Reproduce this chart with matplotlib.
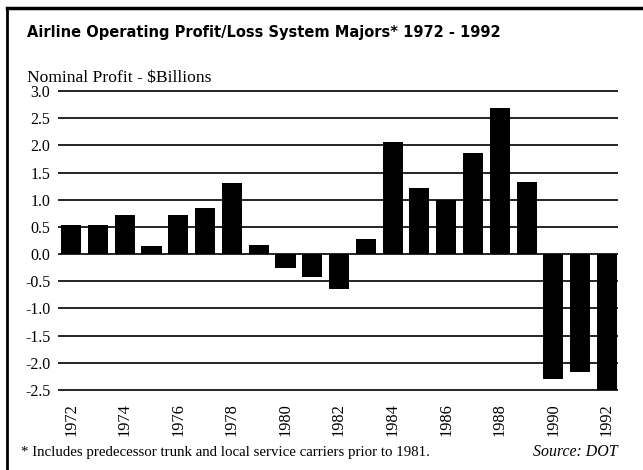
import matplotlib
matplotlib.use("Agg")
import matplotlib.pyplot as plt
from matplotlib.lines import Line2D

years = [1972, 1973, 1974, 1975, 1976, 1977, 1978, 1979, 1980, 1981, 1982,
         1983, 1984, 1985, 1986, 1987, 1988, 1989, 1990, 1991, 1992]
profit = [0.53, 0.54, 0.72, 0.14, 0.71, 0.85, 1.31, 0.16, -0.26, -0.42, -0.65,
          0.27, 2.06, 1.21, 0.99, 1.86, 2.68, 1.33, -2.30, -2.16, -2.50]
yticks = [3.0, 2.5, 2.0, 1.5, 1.0, 0.5, 0.0, -0.5, -1.0, -1.5, -2.0, -2.5]
ytick_labels = ["3.0", "2.5", "2.0", "1.5", "1.0", "0.5", "0.0",
                "-0.5", "-1.0", "-1.5", "-2.0", "-2.5"]
xticks = [1972, 1974, 1976, 1978, 1980, 1982, 1984, 1986, 1988, 1990, 1992]

plt.rcParams['axes.unicode_minus'] = False
serif = ['Liberation Serif', 'DejaVu Serif']

fig = plt.figure(figsize=(6.43, 4.70), dpi=100)
ax = fig.add_axes([0.0902, 0.1679, 0.8709, 0.6409])

# gridlines first, bars on top
for v in yticks:
    ax.axhline(v, color='black', linewidth=1.2, zorder=1)
ax.bar(years, profit, width=0.75, color='black', zorder=2)

ax.set_xlim(1971.51, 1992.41)
ax.set_ylim(-2.52, 3.02)
for s in ax.spines.values():
    s.set_visible(False)
ax.set_yticks(yticks)
ax.set_yticklabels(ytick_labels, fontfamily=serif, fontsize=11.5)
ax.set_xticks(xticks)
ax.set_xticklabels([str(y) for y in xticks], rotation=90, fontfamily=serif,
                   fontsize=11.8, va='top')
ax.tick_params(axis='y', length=0, pad=5.5)
ax.tick_params(axis='x', length=0, pad=8.5)

# titles and notes
fig.text(27/643, 1-37/470, "Airline Operating Profit/Loss System Majors* 1972 - 1992",
         fontfamily='DejaVu Sans', fontweight='bold', fontsize=10.55,
         va='baseline', ha='left')
fig.text(27/643, 1-82/470, "Nominal Profit - $Billions", fontfamily=serif,
         fontsize=12.6, va='baseline', ha='left')
fig.text(21/643, 1-456/470,
         "* Includes predecessor trunk and local service carriers prior to 1981.",
         fontfamily=serif, fontsize=10.7, va='baseline', ha='left')
fig.text(618/643, 1-456/470, "Source: DOT", fontfamily=serif, fontstyle='italic',
         fontsize=11.4, va='baseline', ha='right')

# frame lines left and top
fig.add_artist(Line2D([7/643, 7/643], [0, 1-8/470], transform=fig.transFigure,
                      color='black', linewidth=2))
fig.add_artist(Line2D([7/643, 1], [1-8/470, 1-8/470], transform=fig.transFigure,
                      color='black', linewidth=2.5))

fig.savefig("out.png", dpi=100)
